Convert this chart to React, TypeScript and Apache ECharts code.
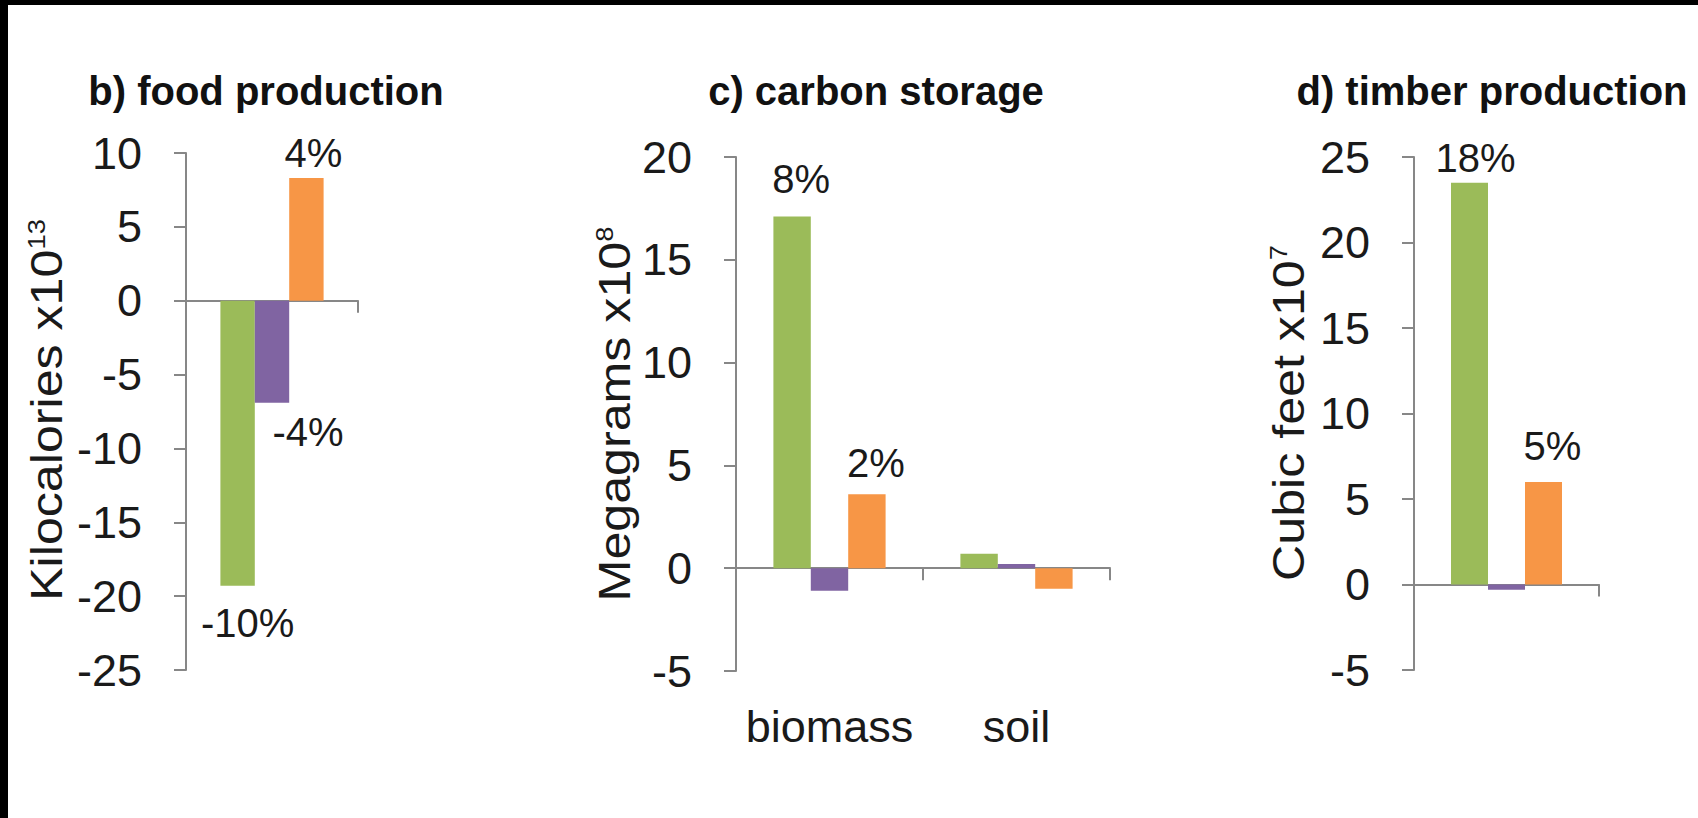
import { useEffect, useRef } from 'react';
import * as echarts from 'echarts';

// Scenario colours (green / purple / orange)
const GREEN = '#9bbb59';
const PURPLE = '#8064a2';
const ORANGE = '#f79646';

// b) food production, kilocalories x10^13
const foodCategories = ['food'];
const foodGreen = [-19.3];
const foodPurple = [-6.9];
const foodOrange = [8.3];
const foodGreenLabels = ['-10%'];
const foodPurpleLabels = ['-4%'];
const foodOrangeLabels = ['4%'];
const foodRange = [-25, 10];

// c) carbon storage, megagrams x10^8
const carbonCategories = ['biomass', 'soil'];
const carbonGreen = [17.1, 0.7];
const carbonPurple = [-1.1, 0.2];
const carbonOrange = [3.6, -1.0];
const carbonGreenLabels = ['8%', ''];
const carbonPurpleLabels = ['', ''];
const carbonOrangeLabels = ['2%', ''];
const carbonRange = [-5, 20];

// d) timber production, cubic feet x10^7
const timberCategories = ['timber'];
const timberGreen = [23.5];
const timberPurple = [-0.3];
const timberOrange = [6.0];
const timberGreenLabels = ['18%'];
const timberPurpleLabels = [''];
const timberOrangeLabels = ['5%'];
const timberRange = [-5, 25];

// Vertical axis titles (unit with power-of-ten exponent)
const axisTitles = ['Kilocalories x10{sup|13}', 'Megagrams x10{sup|8}', 'Cubic feet x10{sup|7}'];

const tickStep = 5;

const FONT = "'Liberation Sans', Arial, Helvetica, sans-serif";
const AXIS_GREY = '#878787';
const TEXT = '#1a1a1a';

type LabelTweak = { offset?: [number, number]; distance?: number };

function barSeries(
  name: string,
  values: number[],
  labels: string[],
  color: string,
  yAxisIndex: number,
  xAxisIndex: number,
  tweak: LabelTweak = {}
) {
  return {
    name,
    type: 'bar',
    xAxisIndex,
    yAxisIndex,
    barGap: '0%',
    barCategoryGap: '40%',
    itemStyle: { color },
    data: values.map((v, i) => ({
      value: v,
      label: {
        show: !!labels[i],
        position: v >= 0 ? 'top' : 'bottom',
        formatter: () => labels[i],
        fontFamily: FONT,
        fontSize: 40,
        color: TEXT,
        distance: tweak.distance ?? 8,
        offset: tweak.offset ?? [9, 0],
      },
    })),
  };
}

function valueAxis(gridIndex: number, range: number[]) {
  return {
    type: 'value',
    gridIndex,
    min: range[0],
    max: range[1],
    interval: tickStep,
    axisLine: { show: true, lineStyle: { color: AXIS_GREY, width: 2 } },
    axisTick: { show: true, length: 12, lineStyle: { color: AXIS_GREY, width: 2 } },
    splitLine: { show: false },
    axisLabel: { fontFamily: FONT, fontSize: 45, color: TEXT, margin: 44 },
  };
}

function categoryAxis(gridIndex: number, data: string[]) {
  return {
    type: 'category',
    gridIndex,
    data,
    axisLine: { show: true, onZero: true, lineStyle: { color: AXIS_GREY, width: 2 } },
    axisTick: { show: true, length: 12, alignWithLabel: false, lineStyle: { color: AXIS_GREY, width: 2 } },
    axisLabel: { show: false },
    splitLine: { show: false },
  };
}

// Rotated axis title, stretched slightly along its reading direction
function axisTitle(text: string, x: number, y: number) {
  return {
    type: 'text',
    x,
    y,
    rotation: Math.PI / 2,
    scaleX: 1.14,
    style: {
      text,
      fontFamily: FONT,
      fontSize: 44,
      fill: TEXT,
      align: 'center',
      verticalAlign: 'middle',
      rich: { sup: { fontFamily: FONT, fontSize: 24, fill: TEXT, verticalAlign: 'top' } },
    },
  };
}

export default function App() {
  const ref = useRef<HTMLDivElement>(null);

  useEffect(() => {
    if (!ref.current) return;
    const chart = echarts.init(ref.current, undefined, { renderer: 'svg' });

    const titleStyle = { fontFamily: FONT, fontSize: 40, fontWeight: 'bold' as const, color: '#111' };

    chart.setOption({
      animation: false,
      backgroundColor: '#fff',
      title: [
        { text: 'b) food production', left: 261, top: 66, textAlign: 'center', textStyle: titleStyle },
        { text: 'c) carbon storage', left: 871, top: 66, textAlign: 'center', textStyle: titleStyle },
        { text: 'd) timber production', left: 1487, top: 66, textAlign: 'center', textStyle: titleStyle },
      ],
      graphic: [
        { type: 'rect', shape: { x: 0, y: 0, width: 1698, height: 5 }, style: { fill: '#000' }, z: 100 },
        { type: 'rect', shape: { x: 0, y: 0, width: 8, height: 818 }, style: { fill: '#000' }, z: 100 },
        axisTitle(axisTitles[0], 47, 410),
        axisTitle(axisTitles[1], 615, 414),
        axisTitle(axisTitles[2], 1289, 413),
      ],
      grid: [
        { left: 186, top: 153, width: 172, height: 517 },
        { left: 736, top: 157, width: 374, height: 514 },
        { left: 1414, top: 157, width: 185, height: 513 },
      ],
      xAxis: [
        categoryAxis(0, foodCategories),
        categoryAxis(1, carbonCategories),
        {
          type: 'category',
          gridIndex: 1,
          position: 'bottom',
          data: carbonCategories,
          axisLine: { show: false, onZero: false },
          axisTick: { show: false },
          axisLabel: { show: true, interval: 0, fontFamily: FONT, fontSize: 45, color: TEXT, margin: 33 },
          splitLine: { show: false },
        },
        categoryAxis(2, timberCategories),
      ],
      yAxis: [valueAxis(0, foodRange), valueAxis(1, carbonRange), valueAxis(2, timberRange)],
      series: [
        barSeries('green', foodGreen, foodGreenLabels, GREEN, 0, 0, { distance: 17, offset: [10, 0] }),
        barSeries('purple', foodPurple, foodPurpleLabels, PURPLE, 0, 0, { offset: [36, 0], distance: 9 }),
        barSeries('orange', foodOrange, foodOrangeLabels, ORANGE, 0, 0, { distance: 5, offset: [7, 0] }),
        barSeries('green', carbonGreen, carbonGreenLabels, GREEN, 1, 1, { distance: 18 }),
        barSeries('purple', carbonPurple, carbonPurpleLabels, PURPLE, 1, 1),
        barSeries('orange', carbonOrange, carbonOrangeLabels, ORANGE, 1, 1, { distance: 11 }),
        barSeries('green', timberGreen, timberGreenLabels, GREEN, 2, 3, { distance: 5, offset: [6, 0] }),
        barSeries('purple', timberPurple, timberPurpleLabels, PURPLE, 2, 3),
        barSeries('orange', timberOrange, timberOrangeLabels, ORANGE, 2, 3, { distance: 16 }),
      ],
    });

    return () => chart.dispose();
  }, []);

  return (
    <div
      ref={ref}
      style={{ position: 'absolute', left: 0, top: 0, width: 1698, height: 818, background: '#fff' }}
    />
  );
}
